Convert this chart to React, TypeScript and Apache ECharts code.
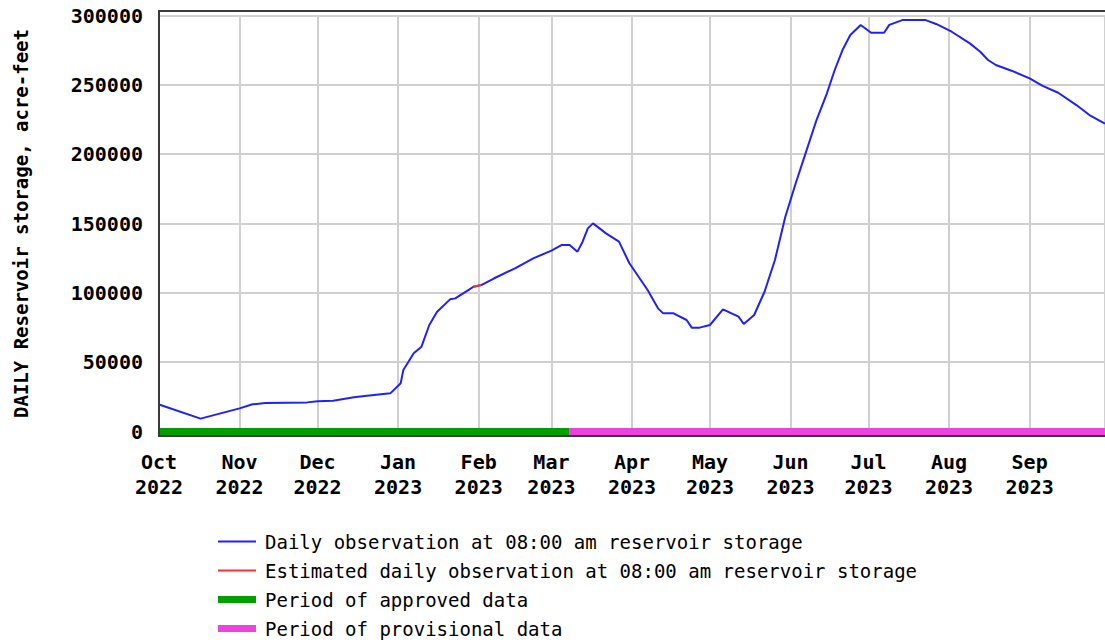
import React, { useEffect, useRef } from "react";
import * as echarts from "echarts";

const obsDates = [
  "2022-10-01", "2022-10-17", "2022-11-01", "2022-11-06", "2022-11-11", "2022-11-27",
  "2022-12-01", "2022-12-07", "2022-12-15", "2022-12-20", "2022-12-29", "2023-01-02",
  "2023-01-03", "2023-01-05", "2023-01-07", "2023-01-10", "2023-01-13", "2023-01-16",
  "2023-01-21", "2023-01-23", "2023-01-28", "2023-01-30", "2023-02-02", "2023-02-07",
  "2023-02-15", "2023-02-22", "2023-03-01", "2023-03-05", "2023-03-08", "2023-03-11",
  "2023-03-13", "2023-03-15", "2023-03-17", "2023-03-22", "2023-03-27", "2023-03-31",
  "2023-04-07", "2023-04-11", "2023-04-13", "2023-04-17", "2023-04-22", "2023-04-24",
  "2023-04-27", "2023-05-01", "2023-05-06", "2023-05-12", "2023-05-14", "2023-05-18",
  "2023-05-22", "2023-05-26", "2023-05-30", "2023-06-03", "2023-06-07", "2023-06-11",
  "2023-06-15", "2023-06-18", "2023-06-21", "2023-06-24", "2023-06-28", "2023-07-02",
  "2023-07-07", "2023-07-09", "2023-07-14", "2023-07-23", "2023-07-27", "2023-08-02",
  "2023-08-09", "2023-08-13", "2023-08-16", "2023-08-19", "2023-08-25", "2023-09-01",
  "2023-09-06", "2023-09-12", "2023-09-19", "2023-09-24", "2023-09-30",
];
const obsValues = [
  19500, 9300, 16700, 19600, 20500, 21000,
  21800, 22200, 24700, 25800, 27500, 34800,
  44300, 50300, 56400, 61200, 76800, 86400,
  95300, 96000, 102000, 104400, 105600, 110500,
  117700, 124900, 130400, 134500, 134500, 129700,
  136900, 146500, 150100, 142900, 136900, 121300,
  102000, 88800, 85200, 85200, 80400, 74900,
  74900, 76800, 88100, 82800, 77500, 84000,
  100800, 123700, 154900, 179000, 201800, 224600,
  243900, 260700, 275100, 285900, 293200, 287600,
  287600, 293200, 296700, 296700, 293900, 288300,
  279900, 273900, 267900, 264300, 260200, 254700,
  249200, 244300, 235400, 228200, 222000,
];
const estDates = ["2023-01-30", "2023-02-02"];
const estValues = [104400, 105600];

const approvedPeriod = ["2022-10-01", "2023-03-08"];
const provisionalPeriod = ["2023-03-08", "2023-09-30"];

const axisStart = "2022-10-01";
const axisEnd = "2023-09-30";
const monthNames = ["Jan", "Feb", "Mar", "Apr", "May", "Jun", "Jul", "Aug", "Sep", "Oct", "Nov", "Dec"];

const seriesNames = [
  "Daily observation at 08:00 am reservoir storage",
  "Estimated daily observation at 08:00 am reservoir storage",
  "Period of approved data",
  "Period of provisional data",
];
const yTitle = "DAILY Reservoir storage, acre-feet";

const BLUE = "#2020ff";
const RED = "#ff3030";
const GREEN = "#00a000";
const PINK = "#f040e0";

const ts = (s: string) => {
  const [y, m, d] = s.split("-").map(Number);
  return Date.UTC(y, m - 1, d);
};
const pairs = (ds: string[], vs: number[]) => ds.map((d, i) => [ts(d), vs[i]]);

const FONT = "DejaVu Sans Mono";
const THIN_ICON = "path://M0,0 H38 V2 H0 Z";
const THICK_ICON = "path://M0,0 H38 V7 H0 Z";

export default function App() {
  const ref = useRef<HTMLDivElement>(null);
  useEffect(() => {
    if (!ref.current) return;
    const chart = echarts.init(ref.current, undefined, { renderer: "svg" });
    chart.setOption({
      animation: false,
      useUTC: true,
      backgroundColor: "#ffffff",
      textStyle: { fontFamily: FONT },
      grid: { left: 159, top: 15.5, right: -6, bottom: 211.5, containLabel: false },
      xAxis: {
        type: "time",
        min: ts(axisStart),
        max: ts(axisEnd),
        splitNumber: 12,
        axisLine: { show: false },
        axisTick: { show: false },
        splitLine: { show: true, lineStyle: { color: "#d0d0d0", width: 2 } },
        axisLabel: {
          margin: 18,
          color: "#000",
          fontFamily: FONT,
          fontWeight: "bold",
          fontSize: 20,
          lineHeight: 25,
          showMaxLabel: false,
          hideOverlap: false,
          formatter: (v: number) => {
            const d = new Date(v);
            return monthNames[d.getUTCMonth()] + "\n" + d.getUTCFullYear();
          },
        },
      },
      yAxis: {
        type: "value",
        min: 0,
        max: 300000,
        interval: 50000,
        name: yTitle,
        nameLocation: "middle",
        nameGap: 129,
        nameTextStyle: { color: "#000", fontFamily: FONT, fontWeight: "bold", fontSize: 19 },
        axisLine: { show: false },
        axisTick: { show: false },
        splitLine: { show: true, lineStyle: { color: "#d0d0d0", width: 2 } },
        axisLabel: {
          margin: 16,
          color: "#000",
          fontFamily: FONT,
          fontWeight: "bold",
          fontSize: 20,
          formatter: (v: number) => String(v),
        },
      },
      legend: {
        orient: "vertical",
        left: 218,
        top: 532,
        height: 140,
        padding: 0,
        itemWidth: 38,
        itemHeight: 14,
        itemGap: 10,
        symbolKeepAspect: true,
        selectedMode: false,
        textStyle: { color: "#000", fontFamily: FONT, fontSize: 19, lineHeight: 18, padding: [0, 0, 0, 4] },
        data: [
          { name: seriesNames[0], icon: THIN_ICON, itemStyle: { color: BLUE } },
          { name: seriesNames[1], icon: THIN_ICON, itemStyle: { color: RED } },
          { name: seriesNames[2], icon: THICK_ICON, itemStyle: { color: GREEN } },
          { name: seriesNames[3], icon: THICK_ICON, itemStyle: { color: PINK } },
        ],
      },
      graphic: [
        {
          type: "rect",
          silent: true,
          z: 100,
          shape: { x: 159, y: 11, width: 1000, height: 425 },
          style: { fill: "none", stroke: "#3a3a3a", lineWidth: 2 },
        },
      ],
      series: [
        {
          name: seriesNames[2],
          type: "line",
          symbol: "none",
          clip: false,
          z: 3,
          lineStyle: { color: GREEN, width: 7 },
          itemStyle: { color: GREEN },
          data: approvedPeriod.map((d) => [ts(d), 0]),
        },
        {
          name: seriesNames[3],
          type: "line",
          symbol: "none",
          clip: false,
          z: 3,
          lineStyle: { color: PINK, width: 7 },
          itemStyle: { color: PINK },
          data: provisionalPeriod.map((d) => [ts(d), 0]),
        },
        {
          name: seriesNames[0],
          type: "line",
          symbol: "none",
          z: 4,
          lineStyle: { color: BLUE, width: 2 },
          itemStyle: { color: BLUE },
          data: pairs(obsDates, obsValues),
        },
        {
          name: seriesNames[1],
          type: "line",
          symbol: "none",
          z: 5,
          lineStyle: { color: RED, width: 2 },
          itemStyle: { color: RED },
          data: pairs(estDates, estValues),
        },
      ],
    });
    return () => chart.dispose();
  }, []);
  return (
    <div
      ref={ref}
      style={{ position: "fixed", left: 0, top: 0, width: 1105, height: 643, background: "#fff" }}
    />
  );
}
